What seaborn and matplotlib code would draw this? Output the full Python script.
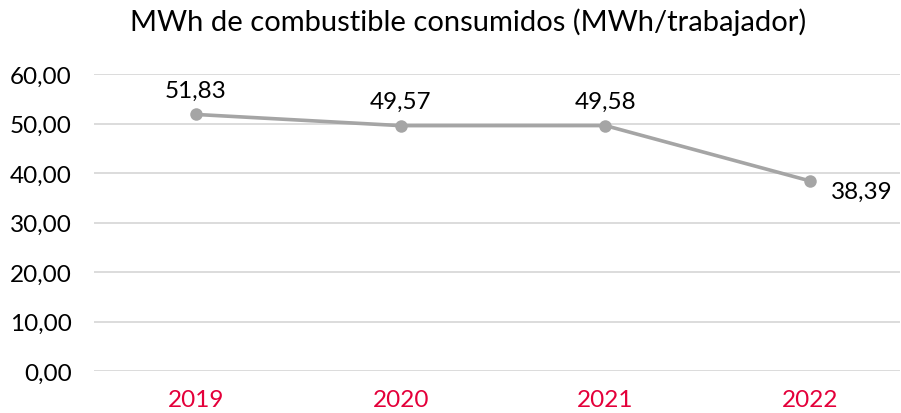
import matplotlib
matplotlib.use("Agg")
import matplotlib.pyplot as plt
import seaborn as sns
import pandas as pd

years = ["2019", "2020", "2021", "2022"]
values = [51.83, 49.57, 49.58, 38.39]
yticks = [0, 10, 20, 30, 40, 50, 60]
title = "MWh de combustible consumidos (MWh/trabajador)"

sns.set_theme(style="white")
plt.rcParams['font.family'] = ['Lato', 'DejaVu Sans']
plt.rcParams['text.color'] = '#000000'

df = pd.DataFrame({"year": years, "value": values})

W, H = 901, 414
fig = plt.figure(figsize=(W / 100, H / 100), dpi=100)
ax = fig.add_axes([94 / W, 42 / H, (900 - 94) / W, (372 - 75) / H])

sns.lineplot(data=df, x="year", y="value", ax=ax, color="#A5A5A5", linewidth=2.6,
             marker="o", markersize=9, markeredgewidth=0, sort=False)

ax.set_xlim(-0.4976, 3.439)
ax.set_ylim(0, 60)
ax.set_yticks(yticks)
ax.set_yticklabels([f"{v:.2f}".replace(".", ",") for v in yticks], fontsize=17.5, color="#000000")
ax.set_xticks(range(len(years)))
ax.set_xticklabels(years, fontsize=17.5, color="#E4003A")
ax.grid(axis="y", color="#D9D9D9", linewidth=1.3)
ax.grid(axis="x", visible=False)
for s in ax.spines.values():
    s.set_visible(False)
ax.tick_params(axis="y", length=0, pad=16)
ax.tick_params(axis="x", length=0, pad=13)
ax.set_xlabel("")
ax.set_ylabel("")

for i, v in enumerate(values):
    lbl = f"{v:.2f}".replace(".", ",")
    if i == len(values) - 1:
        ax.annotate(lbl, (i, v), xytext=(37, -7.5), textcoords="offset points",
                    ha="center", va="center", fontsize=17.5, color="#000000")
    else:
        ax.annotate(lbl, (i, v), xytext=(0, 17.5), textcoords="offset points",
                    ha="center", va="center", fontsize=17.5, color="#000000")

fig.text(468 / W, 1 - 22 / H, title, ha="center", va="center", fontsize=21, color="#000000")

fig.savefig("out.png", dpi=100)
